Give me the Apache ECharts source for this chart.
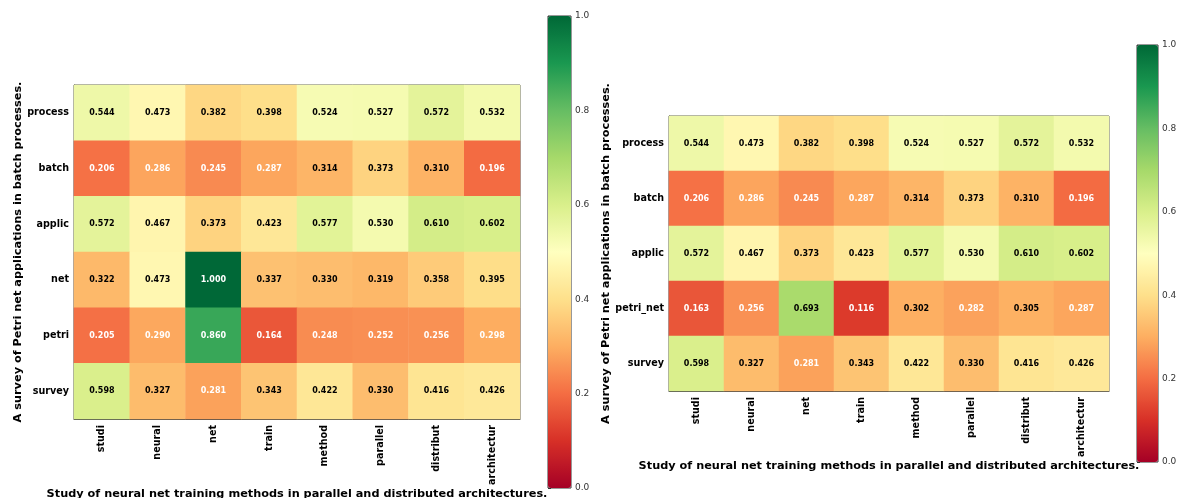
<!DOCTYPE html>
<html>
<head>
<meta charset="utf-8">
<script src="https://cdn.jsdelivr.net/npm/echarts@6/dist/echarts.min.js"></script>
<style>
  html, body { margin: 0; padding: 0; background: #fff; }
</style>
</head>
<body>
<div id="main" style="width: 1178px;height:498px;"></div>
<script>
// 横轴词（两图相同）
var xWords = ["studi", "neural", "net", "train", "method", "parallel", "distribut", "architectur"];
// 左图纵轴词
var yWordsLeft = ["process", "batch", "applic", "net", "petri", "survey"];
// 右图纵轴词
var yWordsRight = ["process", "batch", "applic", "petri_net", "survey"];
// 左图相似度
var simLeft = [
  [0.544, 0.473, 0.382, 0.398, 0.524, 0.527, 0.572, 0.532],
  [0.206, 0.286, 0.245, 0.287, 0.314, 0.373, 0.310, 0.196],
  [0.572, 0.467, 0.373, 0.423, 0.577, 0.530, 0.610, 0.602],
  [0.322, 0.473, 1.000, 0.337, 0.330, 0.319, 0.358, 0.395],
  [0.205, 0.290, 0.860, 0.164, 0.248, 0.252, 0.256, 0.298],
  [0.598, 0.327, 0.281, 0.343, 0.422, 0.330, 0.416, 0.426]
];
// 右图相似度
var simRight = [
  [0.544, 0.473, 0.382, 0.398, 0.524, 0.527, 0.572, 0.532],
  [0.206, 0.286, 0.245, 0.287, 0.314, 0.373, 0.310, 0.196],
  [0.572, 0.467, 0.373, 0.423, 0.577, 0.530, 0.610, 0.602],
  [0.163, 0.256, 0.693, 0.116, 0.302, 0.282, 0.305, 0.287],
  [0.598, 0.327, 0.281, 0.343, 0.422, 0.330, 0.416, 0.426]
];
var xTitle = "Study of neural net training methods in parallel and distributed architectures.";
var yTitle = "A survey of Petri net applications in batch processes.";

// RdYlGn
var rdylgn = ["#a50026", "#d73027", "#f46d43", "#fdae61", "#fee08b", "#ffffbf",
  "#d9ef8b", "#a6d96a", "#66bd63", "#1a9850", "#006837"];

var FONT = "DejaVu Sans";

function toCells(mat) {
  var out = [];
  mat.forEach(function(row, i) {
    row.forEach(function(v, j) {
      var light = v < 0.3 || v > 0.7;
      out.push({ value: [j, i, v], label: { color: light ? "#fff" : "#000" } });
    });
  });
  return out;
}

function catX(gridIndex) {
  return {
    type: "category",
    gridIndex: gridIndex,
    data: xWords,
    name: xTitle,
    nameLocation: "middle",
    nameGap: 70,
    nameMoveOverlap: false,
    nameTextStyle: { fontFamily: FONT, fontWeight: "bold", fontSize: 11.3, color: "#000" },
    axisLine: { lineStyle: { color: "#444" } },
    axisTick: { alignWithLabel: true, length: 4, lineStyle: { color: "#444" } },
    axisLabel: { rotate: 90, fontFamily: FONT, fontWeight: "bold", fontSize: 9.6, color: "#000", margin: 6 },
    splitArea: { show: false }
  };
}

function catY(gridIndex, words, gap) {
  return {
    type: "category",
    gridIndex: gridIndex,
    data: words,
    inverse: true,
    name: yTitle,
    nameLocation: "middle",
    nameRotate: 90,
    nameGap: gap,
    nameTextStyle: { fontFamily: FONT, fontWeight: "bold", fontSize: 11.3, color: "#000" },
    axisLine: { lineStyle: { color: "#444" } },
    axisTick: { alignWithLabel: true, length: 4, lineStyle: { color: "#444" } },
    axisLabel: { fontFamily: FONT, fontWeight: "bold", fontSize: 9.6, color: "#000", margin: 5 }
  };
}

function cbAxisX(gridIndex) {
  return { type: "value", gridIndex: gridIndex, show: false, min: 0, max: 1 };
}
function cbAxisY(gridIndex) {
  return {
    type: "value",
    gridIndex: gridIndex,
    position: "right",
    min: 0,
    max: 1,
    interval: 0.2,
    axisLine: { show: false },
    splitLine: { show: false },
    axisTick: { show: true, length: 3, lineStyle: { color: "#333" } },
    axisLabel: {
      fontFamily: FONT, fontSize: 9, color: "#333", margin: 4,
      formatter: function(v) { return v.toFixed(1); }
    }
  };
}

var myChart = echarts.init(document.getElementById("main"));
var option = {
  animation: false,
  backgroundColor: "#fff",
  grid: [
    { left: 74, top: 85, width: 446, height: 334, show: true, borderColor: "#444", borderWidth: 1, outerBoundsMode: "none", containLabel: false },
    { left: 669, top: 116, width: 440, height: 275, show: true, borderColor: "#444", borderWidth: 1, outerBoundsMode: "none", containLabel: false },
    { left: 548, top: 16, width: 23, height: 472, show: true, borderColor: "#333", borderWidth: 1, outerBoundsMode: "none", containLabel: false },
    { left: 1137, top: 45, width: 21, height: 417, show: true, borderColor: "#333", borderWidth: 1, outerBoundsMode: "none", containLabel: false }
  ],
  xAxis: [catX(0), catX(1), cbAxisX(2), cbAxisX(3)],
  yAxis: [catY(0, yWordsLeft, 50), catY(1, yWordsRight, 56), cbAxisY(2), cbAxisY(3)],
  visualMap: [
    {
      type: "continuous", seriesIndex: 0, min: 0, max: 1, calculable: false,
      left: 548, top: 16, itemWidth: 23, itemHeight: 472, padding: 0,
      text: null, inRange: { color: rdylgn }, z: 1
    },
    {
      type: "continuous", seriesIndex: 1, min: 0, max: 1, calculable: false,
      left: 1137, top: 45, itemWidth: 21, itemHeight: 417, padding: 0,
      text: null, inRange: { color: rdylgn }, z: 1
    }
  ],
  series: [
    {
      type: "heatmap",
      xAxisIndex: 0,
      yAxisIndex: 0,
      data: toCells(simLeft),
      label: {
        show: true, fontFamily: FONT, fontWeight: "bold", fontSize: 8,
        formatter: function(p) { return p.value[2].toFixed(3); }
      },
      emphasis: { disabled: true }
    },
    {
      type: "heatmap",
      xAxisIndex: 1,
      yAxisIndex: 1,
      data: toCells(simRight),
      label: {
        show: true, fontFamily: FONT, fontWeight: "bold", fontSize: 8,
        formatter: function(p) { return p.value[2].toFixed(3); }
      },
      emphasis: { disabled: true }
    }
  ]
};
myChart.setOption(option);
</script>
</body>
</html>
